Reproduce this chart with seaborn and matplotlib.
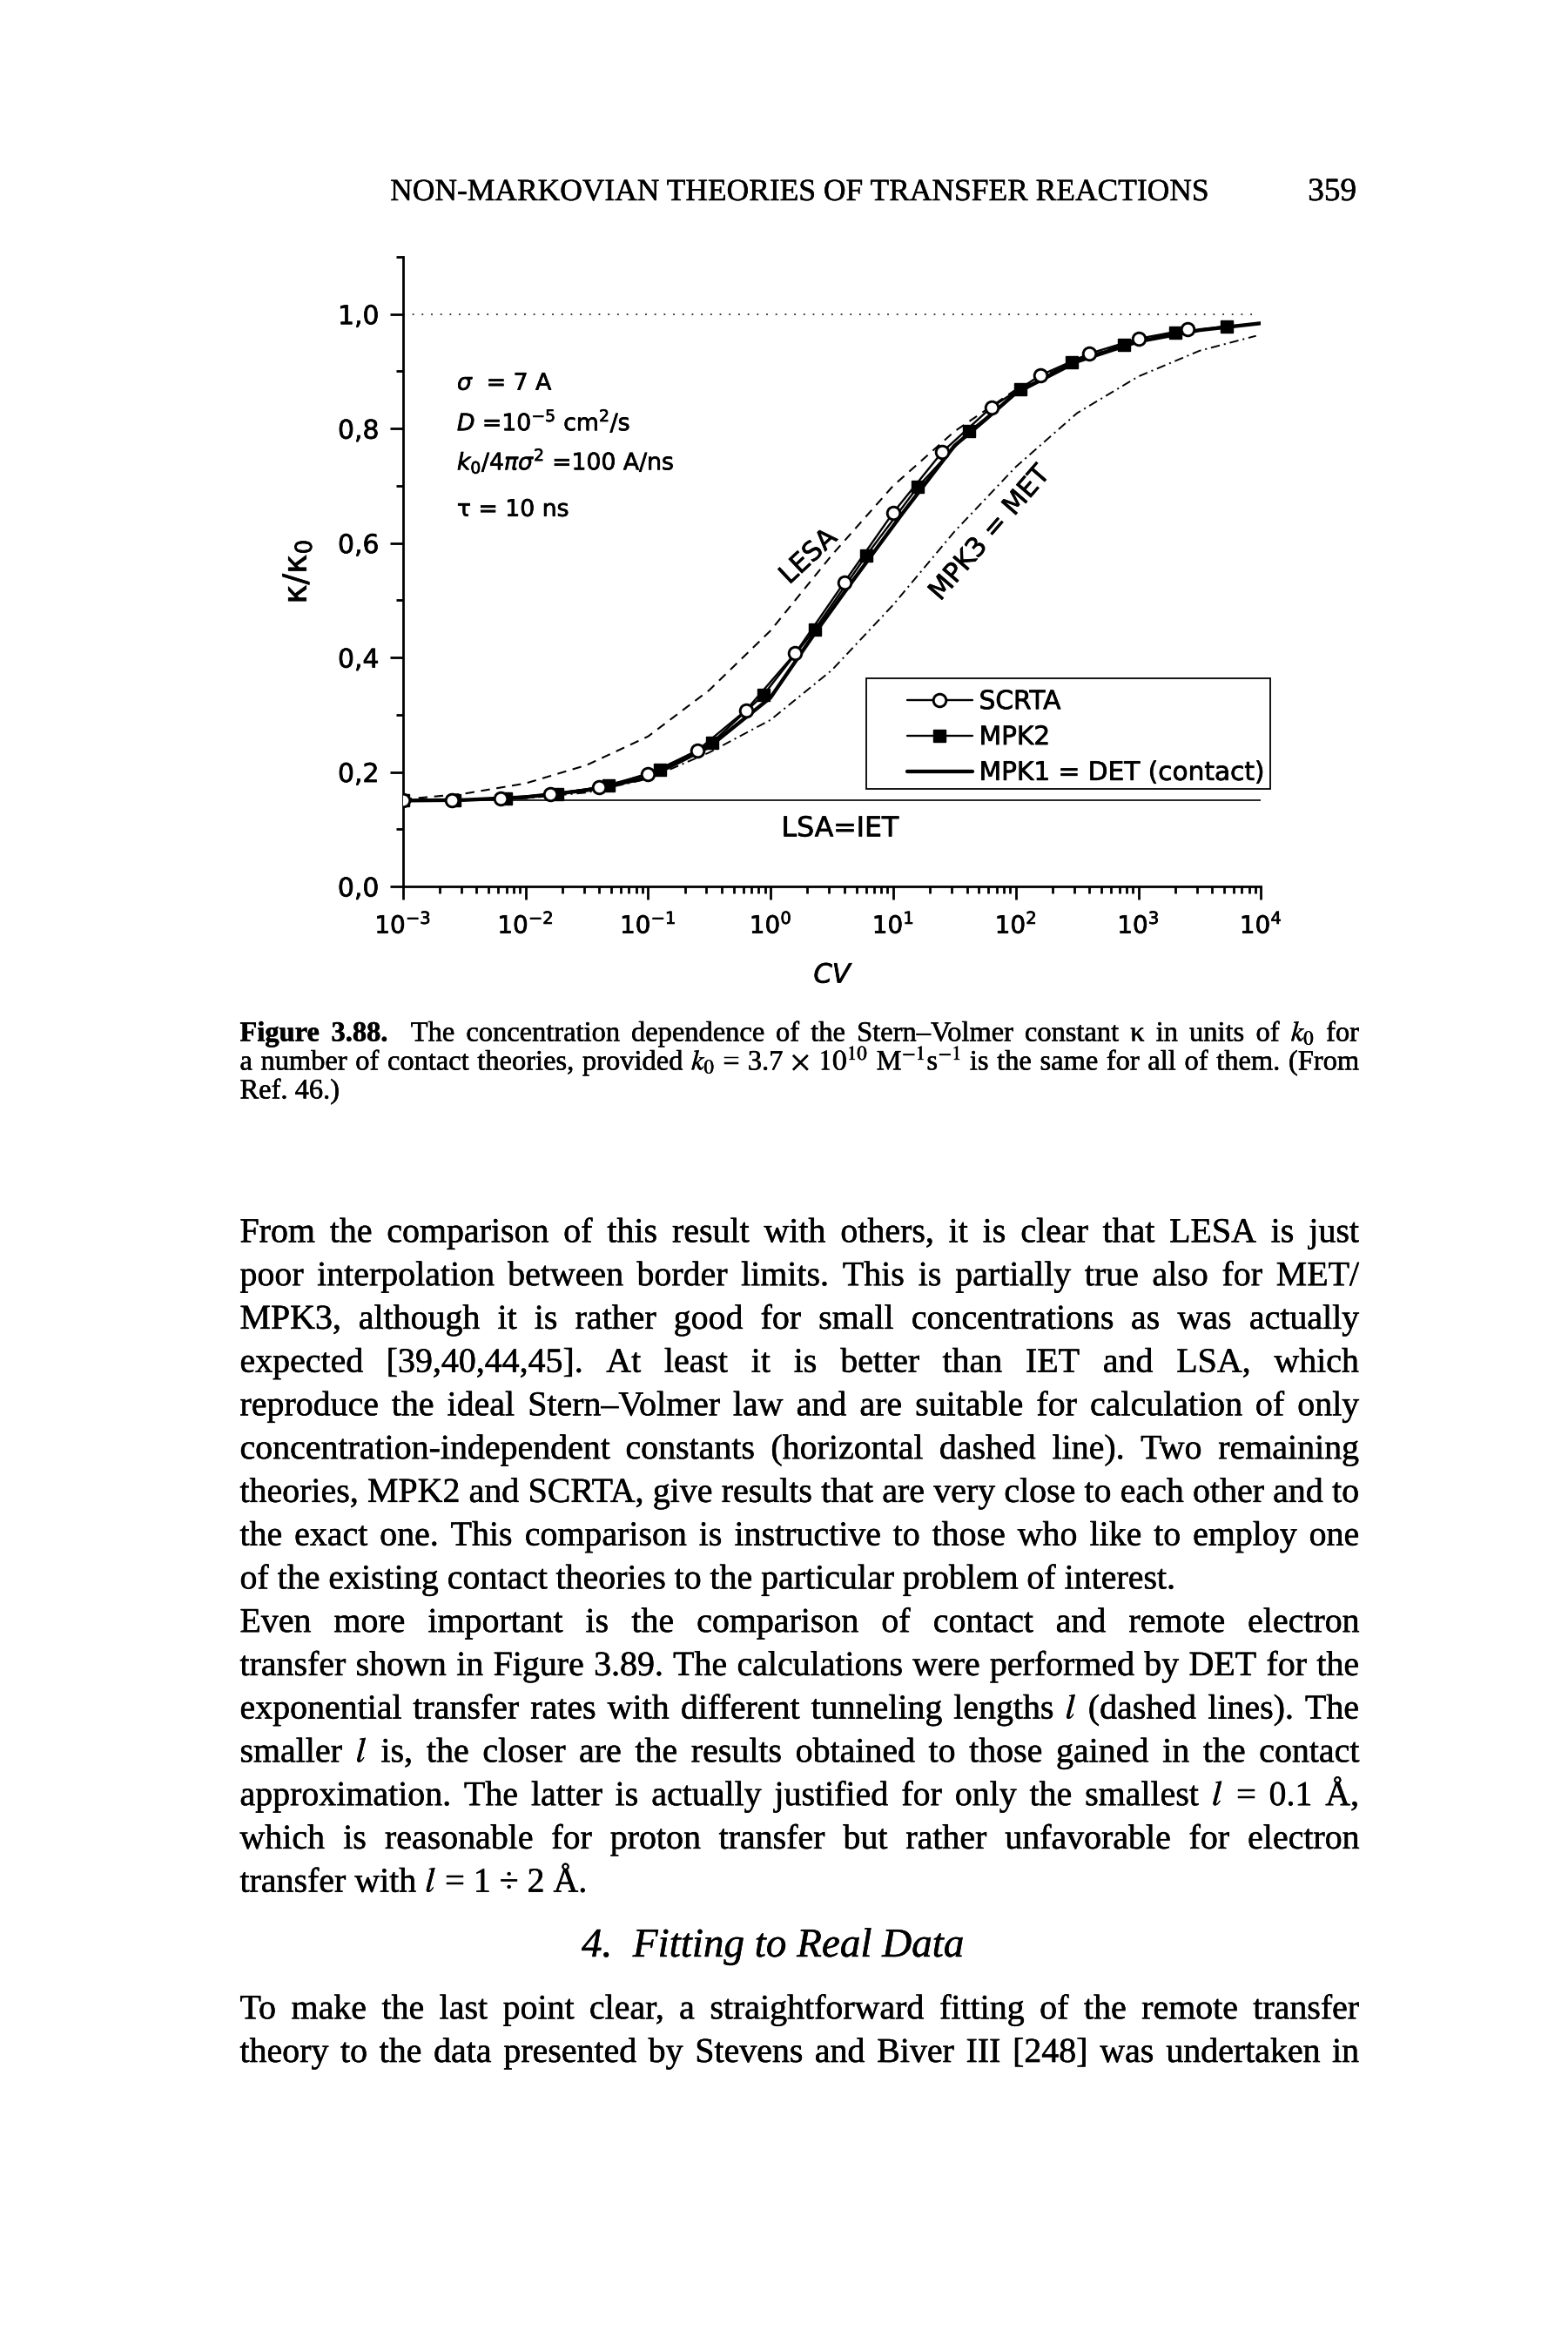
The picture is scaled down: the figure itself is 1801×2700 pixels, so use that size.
import numpy as np
import pandas as pd
import matplotlib
matplotlib.use("Agg")
import matplotlib.pyplot as plt
import matplotlib.patheffects as pe
from matplotlib.text import Text
import seaborn as sns
from matplotlib.ticker import LogLocator, NullFormatter, MultipleLocator
from matplotlib.patches import Rectangle

# ---------------- chart data ----------------
scrta_log10_cv = [-3.0, -2.6, -2.2, -1.8, -1.4, -1.0, -0.6, -0.2, 0.2, 0.6, 1.0, 1.4, 1.8, 2.2, 2.6, 3.0, 3.4]
scrta_kappa = [0.150, 0.150, 0.154, 0.161, 0.173, 0.196, 0.237, 0.308, 0.407, 0.531, 0.653, 0.759, 0.837, 0.893, 0.931, 0.957, 0.973]

mpk2_log10_cv = [-3.0, -2.58, -2.16, -1.74, -1.32, -0.90, -0.48, -0.06, 0.36, 0.78, 1.20, 1.62, 2.04, 2.46, 2.88, 3.30, 3.72]
mpk2_kappa = [0.150, 0.151, 0.153, 0.162, 0.176, 0.204, 0.251, 0.334, 0.449, 0.578, 0.698, 0.795, 0.868, 0.916, 0.946, 0.967, 0.979]

mpk1_log10_cv = [-3.0, -2.5, -2.0, -1.5, -1.0, -0.5, 0.0, 0.35, 0.66, 1.08, 1.5, 1.75, 2.0, 2.5, 3.0, 3.5, 4.0]
mpk1_kappa = [0.150, 0.151, 0.156, 0.168, 0.190, 0.244, 0.330, 0.439, 0.531, 0.653, 0.770, 0.815, 0.862, 0.917, 0.952, 0.972, 0.984]

lesa_log10_cv = [-3.0, -2.5, -2.0, -1.5, -1.0, -0.5, 0.0, 0.5, 1.0, 1.5, 2.0, 2.5, 3.0, 3.5, 4.0]
lesa_kappa = [0.152, 0.162, 0.180, 0.212, 0.262, 0.343, 0.447, 0.579, 0.700, 0.795, 0.868, 0.920, 0.955, 0.973, 0.984]

mpk3_log10_cv = [-3.0, -2.5, -2.0, -1.5, -1.0, -0.5, 0.0, 0.5, 1.0, 1.5, 2.0, 2.5, 3.0, 3.5, 3.96]
mpk3_kappa = [0.150, 0.151, 0.154, 0.164, 0.188, 0.234, 0.291, 0.378, 0.492, 0.620, 0.733, 0.827, 0.891, 0.936, 0.962]

lsa_iet_level = 0.150
upper_limit_level = 1.0

y_ticks = [0.0, 0.2, 0.4, 0.6, 0.8, 1.0]
y_tick_labels = ["0,0", "0,2", "0,4", "0,6", "0,8", "1,0"]

legend_labels = ["SCRTA", "MPK2", "MPK1 = DET (contact)"]
param_lines = [r"$\sigma$  = 7 A", r"$D$ =10$^{-5}$ cm$^{2}$/s",
               r"$k_0$/4$\pi\sigma^{2}$ =100 A/ns", "τ = 10 ns"]

# ---------------- page text ----------------
header_title = "NON-MARKOVIAN THEORIES OF TRANSFER REACTIONS"
page_number = "359"
caption_lines = [
    "**Figure **3.88.  The concentration dependence of the Stern–Volmer constant κ in units of $k_0$ for",
    "a number of contact theories, provided $k_0$ = 3.7 $\\times$ $10^{10}$ M$^{-1}$s$^{-1}$ is the same for all of them. (From",
    "Ref. 46.)",
]
para1 = [
    "From the comparison of this result with others, it is clear that LESA is just",
    "poor interpolation between border limits. This is partially true also for MET/",
    "MPK3, although it is rather good for small concentrations as was actually",
    "expected [39,40,44,45]. At least it is better than IET and LSA, which",
    "reproduce the ideal Stern–Volmer law and are suitable for calculation of only",
    "concentration-independent constants (horizontal dashed line). Two remaining",
    "theories, MPK2 and SCRTA, give results that are very close to each other and to",
    "the exact one. This comparison is instructive to those who like to employ one",
    "of the existing contact theories to the particular problem of interest.",
]
para2 = [
    "Even more important is the comparison of contact and remote electron",
    "transfer shown in Figure 3.89. The calculations were performed by DET for the",
    "exponential transfer rates with different tunneling lengths $l$ (dashed lines). The",
    "smaller $l$ is, the closer are the results obtained to those gained in the contact",
    "approximation. The latter is actually justified for only the smallest $l$ = 0.1 Å,",
    "which is reasonable for proton transfer but rather unfavorable for electron",
    "transfer with $l$ = 1 ÷ 2 Å.",
]
section_heading = "4.  Fitting to Real Data"
para3 = [
    "To make the last point clear, a straightforward fitting of the remote transfer",
    "theory to the data presented by Stevens and Biver III [248] was undertaken in",
]

# ---------------- style ----------------
sns.set_style("ticks")
plt.rcParams.update({
    "font.family": ["DejaVu Sans"],
    "mathtext.fontset": "dejavusans",
    "lines.scale_dashes": False,
    "axes.linewidth": 2.0,
    "axes.edgecolor": "black",
    "xtick.color": "black",
    "ytick.color": "black",
    "text.color": "black",
    "axes.labelcolor": "black",
    "figure.facecolor": "white",
    "axes.facecolor": "white",
})
SERIF = ["Liberation Serif", "DejaVu Serif"]

W, H = 1801, 2700
fig = plt.figure(figsize=(W / 100, H / 100), dpi=100)
ax = fig.add_axes([462.7 / W, 1 - 1018 / H, (1448.3 - 462.7) / W, (1018 - 295) / H])


def cv(v):
    return 10 ** np.asarray(v, dtype=float)


# thick MPK1 line
sns.lineplot(x=cv(mpk1_log10_cv), y=mpk1_kappa, ax=ax, estimator=None, sort=False,
             color="black", linewidth=3.1, zorder=3, label=legend_labels[2])
# LESA dashed
sns.lineplot(x=cv(lesa_log10_cv), y=lesa_kappa, ax=ax, estimator=None, sort=False,
             color="black", linewidth=1.5, linestyle=(0, (7.5, 5.5)), zorder=2)
# MPK3 = MET dash-dot
sns.lineplot(x=cv(mpk3_log10_cv), y=mpk3_kappa, ax=ax, estimator=None, sort=False,
             color="black", linewidth=1.4, linestyle=(0, (7.5, 3.5, 1.5, 3.5)), zorder=2)
# MPK2 filled squares
sns.lineplot(x=cv(mpk2_log10_cv), y=mpk2_kappa, ax=ax, estimator=None, sort=False,
             color="black", linewidth=1.7, marker="s", markersize=9.5,
             markerfacecolor="black", markeredgecolor="black", markeredgewidth=1.0,
             zorder=4, label=legend_labels[1])
# SCRTA open circles
sns.lineplot(x=cv(scrta_log10_cv), y=scrta_kappa, ax=ax, estimator=None, sort=False,
             color="black", linewidth=1.7, marker="o", markersize=10.5,
             markerfacecolor="white", markeredgecolor="black", markeredgewidth=2.1,
             zorder=5, label=legend_labels[0])

# reference levels
ax.hlines(lsa_iet_level, 1e-3, 1e4, color="black", linewidth=1.2, zorder=1)
ax.hlines(upper_limit_level, 1e-3, 10 ** 3.96, color="black", linewidth=1.1,
          linestyles=[(0, (1.3, 6.4))], zorder=1)

ax.set_xscale("log")
ax.set_xlim(1e-3, 1e4)
ax.set_ylim(0, 1.1)
ax.xaxis.set_major_locator(LogLocator(base=10, numticks=20))
ax.xaxis.set_minor_locator(LogLocator(base=10, subs=np.arange(2, 10), numticks=20))
ax.xaxis.set_minor_formatter(NullFormatter())
ax.set_yticks(y_ticks, labels=y_tick_labels)
ax.yaxis.set_minor_locator(MultipleLocator(0.1))
sns.despine(ax=ax)
ax.tick_params(axis="both", which="major", direction="out", length=10.5, width=2.0)
ax.tick_params(axis="both", which="minor", direction="out", length=5.5, width=2.0)
ax.tick_params(axis="y", which="major", labelsize=21.5, pad=9)
ax.tick_params(axis="x", which="major", labelsize=20, pad=11)
ax.set_xlabel("CV", fontsize=22, style="italic", labelpad=20)
ax.set_ylabel("κ/κ$_0$", fontsize=27, labelpad=20)

# legend
handles_by_label = {l.get_label(): l for l in ax.get_lines()}
handles = [handles_by_label[n] for n in legend_labels]
ax.legend(handles, legend_labels, loc="upper left", bbox_to_anchor=(0.5875, 0.3137),
          frameon=False, fontsize=21.3, handlelength=2.53, handletextpad=0.27,
          labelspacing=0.4, borderpad=0, borderaxespad=0)
ax.add_patch(Rectangle((0.540, 0.1549), 1.0112 - 0.540, 0.3306 - 0.1549,
                       transform=ax.transAxes, fill=False, lw=1.3, ec="black",
                       clip_on=False, zorder=6))

# annotations inside the plot
param_baselines = [0.8677, 0.7966, 0.728, 0.647]
for txt, yb in zip(param_lines, param_baselines):
    ax.text(10 ** -2.558, yb, txt, fontsize=19.2, ha="left", va="baseline")
ax.text(10 ** 0.31, 0.576, "LESA", fontsize=22, rotation=43, ha="center", va="center",
        rotation_mode="anchor")
ax.text(10 ** 1.789, 0.617, "MPK3 = MET", fontsize=22, rotation=49, ha="center", va="center",
        rotation_mode="anchor")
ax.text(10 ** 0.567, 0.1005, "LSA=IET", fontsize=22.7, ha="center", va="center")

# ---------------- page text ----------------
renderer = fig.canvas.get_renderer()
X0, X1 = 275.5, 1561.0


def fxy(x, y):
    return x / W, 1 - y / H


def parse(line):
    words, weights, pending = [], [], 0
    for tk in line.split(" "):
        if tk == "":
            pending += 1
            continue
        wt = "normal"
        if tk.startswith("**"):
            wt, tk = "bold", tk[2:]
        if words:
            weights.append(1 + pending)
        words.append((tk, wt))
        pending = 0
    return words, weights


def text_width(s, size, weight="normal", style="normal"):
    t = fig.text(0, 0, s, fontsize=size, family=SERIF, weight=weight, style=style,
                 math_fontfamily="stix")
    w = t.get_window_extent(renderer).width
    t.remove()
    return w


def space_width(size):
    return text_width("n n", size) - text_width("nn", size)


def natural_width(line, size):
    words, weights = parse(line)
    return sum(text_width(w, size, wt) for w, wt in words) + space_width(size) * sum(weights)


def draw_line(line, y_base, size, justify):
    words, weights = parse(line)
    widths = [text_width(w, size, wt) for w, wt in words]
    if justify and weights:
        gap = (X1 - X0 - sum(widths)) / sum(weights)
    else:
        gap = space_width(size)
    x = X0
    for i, ((w, wt), wd) in enumerate(zip(words, widths)):
        fig.text(*fxy(x, y_base), w, fontsize=size, family=SERIF, weight=wt,
                 math_fontfamily="stix", ha="left", va="baseline")
        if i < len(weights):
            x += wd + gap * weights[i]


def fit_size(lines):
    r = [natural_width(l, 10) / (X1 - X0) for l in lines]
    return min(10 / np.mean(r) * 0.965, 10 / max(r) * 0.998)


# header
hs = 10 * (1391 - 448) / text_width(header_title, 10)
fig.text(*fxy(919.5, 230), header_title, fontsize=hs, family=SERIF, ha="center", va="baseline")
fig.text(*fxy(1558, 230), page_number, fontsize=hs * 1.05, family=SERIF, ha="right", va="baseline")

# caption
cap_size = fit_size(caption_lines[:2])
cap_base = [1195.5, 1228.5, 1261.5]
for i, (line, yb) in enumerate(zip(caption_lines, cap_base)):
    draw_line(line, yb, cap_size, justify=(i < 2))

# body
body_size = fit_size(para1[:-1] + para2[:-1] + para3)
pitch = 49.75
y = 1415.4 + 11
for i, line in enumerate(para1):
    draw_line(line, y, body_size, justify=(i < len(para1) - 1))
    y += pitch
for i, line in enumerate(para2):
    draw_line(line, y, body_size, justify=(i < len(para2) - 1))
    y += pitch
fig.text(*fxy(668, 2235 + 12), section_heading, fontsize=body_size * 1.18, family=SERIF,
         style="italic", ha="left", va="baseline")
y = 2307.3 + 11
for line in para3:
    draw_line(line, y, body_size, justify=True)
    y += pitch

# slightly heavier strokes on text, like the printed scan
fig.canvas.draw()
for t in ax.findobj(Text):
    if t.get_text():
        t.set_path_effects([pe.withStroke(linewidth=0.5, foreground="black")])
for t in fig.texts:
    t.set_path_effects([pe.withStroke(linewidth=0.35, foreground="black")])

fig.savefig("out.png", dpi=100, facecolor="white")
